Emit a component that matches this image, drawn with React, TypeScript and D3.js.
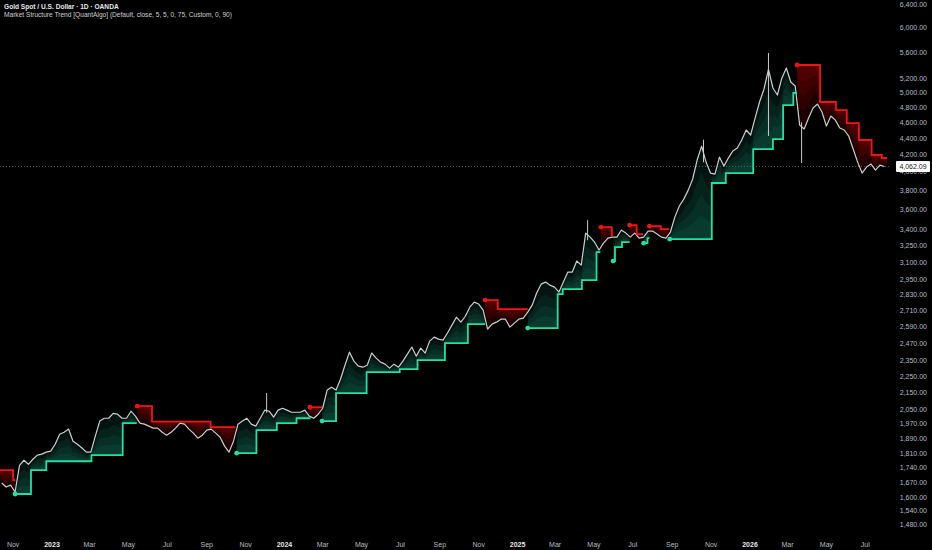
import React from 'react';
import * as d3 from 'd3';

const WIDTH = 932;
const HEIGHT = 550;
const PLOT_RIGHT = 890;
const PLOT_BOTTOM = 537;

// weekly closes, first one is the week of 2022-10-14
const firstWeek = '2022-10-14';
const weeklyCloses = [
  1666, 1647, 1656, 1624, 1751, 1776, 1756, 1781, 1802, 1807,
  1817, 1822, 1858, 1911, 1922, 1939, 1874, 1858, 1838, 1817,
  1817, 1901, 1983, 1999, 1999, 2027, 2022, 1999, 1999, 2039,
  2011, 1972, 1966, 1955, 1944, 1944, 1922, 1906, 1922, 1944,
  1972, 1966, 1939, 1917, 1890, 1906, 1933, 1939, 1917, 1895,
  1848, 1817, 1874, 1966, 1983, 1999, 1966, 1955, 1999, 2045,
  2039, 2005, 2045, 2056, 2045, 2033, 2033, 2033, 2045, 2011,
  1999, 2022, 2056, 2164, 2182, 2164, 2231, 2321, 2408, 2348,
  2315, 2308, 2321, 2402, 2368, 2341, 2328, 2302, 2328, 2308,
  2348, 2395, 2443, 2381, 2436, 2402, 2484, 2512, 2498, 2491,
  2541, 2598, 2657, 2620, 2664, 2733, 2772, 2757, 2711, 2570,
  2606, 2620, 2642, 2642, 2584, 2613, 2642, 2650, 2695, 2749,
  2844, 2916, 2933, 2908, 2892, 2852, 2933, 3017, 3017, 3112,
  3077, 3367, 3329, 3282, 3210, 3273, 3320, 3329, 3329, 3396,
  3367, 3329, 3367, 3320, 3329, 3386, 3386, 3358, 3329, 3320,
  3377, 3522, 3634, 3705, 3800, 3921, 4136, 4302, 4112, 3987,
  3976, 4171, 4066, 4159, 4242, 4278, 4376, 4501, 4438, 4655,
  4870, 5052, 5340, 5066, 4967, 5208, 5360, 5152, 5094, 4563,
  4514, 4655, 4788, 4842, 4735, 4551, 4682, 4628, 4526, 4501,
  4425, 4266, 4112, 3987, 4055, 4089, 4021, 4078, 4062,
];

// long wicks that stick out of the weekly line: [date, low, high]
const wicks: [string, number, number][] = [
  ['2023-12-04', 2030, 2146],
  ['2025-04-21', 3300, 3492],
  ['2025-10-20', 4110, 4380],
  ['2026-01-30', 4426, 5590],
  ['2026-03-23', 4101, 4600],
];

type Step = [string, number];
interface Trend {
  steps: Step[];
  end: string;
  dot: boolean;
}

// green trailing support, one entry per bullish structure
const supportTrends: Trend[] = [
  { steps: [['2022-11-04', 1615], ['2022-11-29', 1727], ['2022-12-23', 1771], ['2023-03-04', 1802], ['2023-04-22', 1972]], end: '2023-05-14', dot: true },
  { steps: [['2023-10-18', 1812], ['2023-11-18', 1933], ['2023-12-20', 1972], ['2024-01-20', 1999]], end: '2024-02-11', dot: true },
  { steps: [['2024-02-29', 1983], ['2024-03-22', 2146], ['2024-05-09', 2276], ['2024-06-30', 2295], ['2024-07-28', 2354], ['2024-09-09', 2470], ['2024-10-15', 2606]], end: '2024-11-11', dot: true },
  { steps: [['2025-01-17', 2577], ['2025-03-05', 2836], ['2025-03-13', 2876], ['2025-04-12', 2950], ['2025-05-05', 3192]], end: '2025-05-11', dot: true },
  { steps: [['2025-05-31', 3112], ['2025-06-03', 3236], ['2025-06-14', 3283]], end: '2025-06-26', dot: true },
  { steps: [['2025-07-18', 3273], ['2025-07-24', 3320]], end: '2025-07-27', dot: true },
  { steps: [['2025-08-28', 3310], ['2025-11-02', 3877], ['2025-11-24', 3987], ['2026-01-06', 4266], ['2026-02-06', 4388], ['2026-02-22', 4829], ['2026-03-10', 4995]], end: '2026-03-16', dot: true },
];

// red trailing resistance, one entry per bearish structure
const resistanceTrends: Trend[] = [
  { steps: [['2022-09-30', 1727], ['2022-11-01', 1680]], end: '2022-11-04', dot: false },
  { steps: [['2023-05-15', 2068], ['2023-06-07', 1980], ['2023-09-07', 1950]], end: '2023-10-16', dot: true },
  { steps: [['2024-02-10', 2062]], end: '2024-02-29', dot: true },
  { steps: [['2024-11-11', 2788], ['2024-12-01', 2718]], end: '2025-01-17', dot: true },
  { steps: [['2025-05-12', 3424], ['2025-05-29', 3339]], end: '2025-05-31', dot: true },
  { steps: [['2025-06-26', 3444], ['2025-07-07', 3358]], end: '2025-07-17', dot: true },
  { steps: [['2025-07-27', 3434], ['2025-08-14', 3405]], end: '2025-08-27', dot: true },
  { steps: [['2026-03-16', 5405], ['2026-04-21', 4870], ['2026-05-16', 4761], ['2026-06-02', 4590], ['2026-06-21', 4376], ['2026-07-11', 4195], ['2026-07-27', 4160]], end: '2026-08-04', dot: true },
];

const priceTicks = [
  1480, 1540, 1600, 1670, 1740, 1810, 1890, 1970, 2050, 2150, 2250, 2350, 2470, 2590,
  2710, 2830, 2950, 3100, 3250, 3400, 3600, 3800, 4000, 4200, 4400, 4600, 4800, 5000,
  5200, 5600, 6000, 6400,
];
const lastPrice = 4062.09;

const title = 'Gold Spot / U.S. Dollar · 1D · OANDA';
const subtitle = 'Market Structure Trend [QuantAlgo] (Default, close, 5, 5, 0, 75, Custom, 0, 90)';

// how far each shading layer reaches from the level towards price
const bandShares = [1, 0.72, 0.48, 0.26];

const parse = d3.utcParse('%Y-%m-%d');
const FONT = '"Liberation Sans", Arial, sans-serif';

interface Pt { t: Date; c: number }

const App = () => {
  const x = d3
    .scaleUtc()
    .domain([parse('2023-01-01') as Date, parse('2026-01-01') as Date])
    .range([52, 750]);
  const y = d3.scaleLog().domain([6400, 1480]).range([5, 525]);

  const start = parse(firstWeek) as Date;
  const prices: Pt[] = weeklyCloses.map((c, i) => ({ t: d3.utcDay.offset(start, 7 * i), c }));

  const bis = d3.bisector((d: Pt) => d.t).left;
  const priceY = (t: Date) => {
    const i = bis(prices, t);
    if (i <= 0) return y(prices[0].c);
    if (i >= prices.length) return y(prices[prices.length - 1].c);
    const a = prices[i - 1];
    const b = prices[i];
    const f = (+t - +a.t) / (+b.t - +a.t);
    return y(a.c) + f * (y(b.c) - y(a.c));
  };

  // points along a trend: each step segment at its ends and the weekly dates in between
  const trendSamples = (tr: Trend) => {
    const out: { t: Date; level: number }[] = [];
    tr.steps.forEach(([d, level], k) => {
      const t0 = parse(d) as Date;
      const t1 = parse(k + 1 < tr.steps.length ? tr.steps[k + 1][0] : tr.end) as Date;
      out.push({ t: t0, level });
      prices.forEach((p) => {
        if (p.t > t0 && p.t < t1) out.push({ t: p.t, level });
      });
      out.push({ t: t1, level });
    });
    return out;
  };

  const bands = (tr: Trend, up: boolean) => {
    const pts = trendSamples(tr);
    return bandShares.map((share) =>
      d3
        .area<{ t: Date; level: number }>()
        .x((d) => x(d.t))
        .y0((d) => y(d.level))
        .y1((d) => {
          const yl = y(d.level);
          const dy = priceY(d.t) - yl;
          const cl = up ? Math.min(dy, 0) : Math.max(dy, 0);
          return yl + share * cl;
        })(pts) || ''
    );
  };

  const levelLine = (tr: Trend) => {
    const last = tr.steps[tr.steps.length - 1];
    const pts: [number, number][] = tr.steps.map(([d, v]) => [x(parse(d) as Date), y(v)]);
    pts.push([x(parse(tr.end) as Date), y(last[1])]);
    return d3.line().curve(d3.curveStepAfter)(pts) || '';
  };

  const pricePath =
    d3
      .line<Pt>()
      .x((d) => x(d.t))
      .y((d) => y(d.c))(prices) || '';

  const monthTicks = d3.utcMonth
    .every(2)!
    .range(parse('2022-11-01') as Date, parse('2026-08-01') as Date);
  const monthFmt = d3.utcFormat('%b');

  const GREEN = '#22dfa4';
  const RED = '#f21414';

  return (
    <svg
      width={WIDTH}
      height={HEIGHT}
      style={{ position: 'absolute', left: 0, top: 0, display: 'block' }}
      fontFamily={FONT}
    >
      <rect x={0} y={0} width={WIDTH} height={HEIGHT} fill="#000" />
      <defs>
        <clipPath id="plot">
          <rect x={0} y={0} width={PLOT_RIGHT} height={PLOT_BOTTOM} />
        </clipPath>
      </defs>

      <g clipPath="url(#plot)">
        {/* shaded distance between the level and price */}
        {supportTrends.map((tr, i) =>
          bands(tr, true).map((d, k) => (
            <path key={`gb${i}-${k}`} d={d} fill="#0f7356" fillOpacity={0.17} />
          ))
        )}
        {resistanceTrends.map((tr, i) =>
          bands(tr, false).map((d, k) => (
            <path key={`rb${i}-${k}`} d={d} fill="#9a0000" fillOpacity={0.17} />
          ))
        )}

        <line
          x1={0}
          x2={PLOT_RIGHT}
          y1={y(lastPrice)}
          y2={y(lastPrice)}
          stroke="#6a6a6a"
          strokeWidth={0.8}
          strokeDasharray="1 2"
        />

        {/* price */}
        {wicks.map(([d, lo, hi], i) => (
          <line
            key={`w${i}`}
            x1={x(parse(d) as Date)}
            x2={x(parse(d) as Date)}
            y1={y(lo)}
            y2={y(hi)}
            stroke="#c8c8c8"
            strokeWidth={1}
          />
        ))}
        <path d={pricePath} fill="none" stroke="#cdcdcd" strokeWidth={1.2} strokeLinejoin="round" />

        {/* trailing levels */}
        {supportTrends.map((tr, i) => (
          <path key={`gl${i}`} d={levelLine(tr)} fill="none" stroke={GREEN} strokeWidth={1.8} />
        ))}
        {resistanceTrends.map((tr, i) => (
          <path key={`rl${i}`} d={levelLine(tr)} fill="none" stroke={RED} strokeWidth={1.8} />
        ))}
        {supportTrends
          .filter((tr) => tr.dot)
          .map((tr, i) => (
            <circle
              key={`gd${i}`}
              cx={x(parse(tr.steps[0][0]) as Date)}
              cy={y(tr.steps[0][1])}
              r={2.4}
              fill={GREEN}
            />
          ))}
        {resistanceTrends
          .filter((tr) => tr.dot)
          .map((tr, i) => (
            <circle
              key={`rd${i}`}
              cx={x(parse(tr.steps[0][0]) as Date)}
              cy={y(tr.steps[0][1])}
              r={2.4}
              fill={RED}
            />
          ))}
      </g>

      {/* price axis */}
      {priceTicks.map((v) => (
        <text key={v} x={927} y={y(v)} dy="0.35em" textAnchor="end" fontSize={7} fill="#b8bbc2">
          {d3.format(',.2f')(v)}
        </text>
      ))}
      <rect x={896} y={y(lastPrice) - 5.5} width={34} height={11} fill="#fff" rx={1} />
      <text
        x={913}
        y={y(lastPrice)}
        dy="0.35em"
        textAnchor="middle"
        fontSize={7}
        fill="#131722"
      >
        {d3.format(',.2f')(lastPrice)}
      </text>

      {/* time axis */}
      {monthTicks.map((t) => {
        const isYear = t.getUTCMonth() === 0;
        return (
          <text
            key={+t}
            x={x(t)}
            y={547}
            textAnchor="middle"
            fontSize={7}
            fontWeight={isYear ? 'bold' : 'normal'}
            fill={isYear ? '#e6e6e6' : '#b8bbc2'}
          >
            {isYear ? t.getUTCFullYear() : monthFmt(t)}
          </text>
        );
      })}

      {/* legend */}
      <text x={4} y={9} fontSize={6.6} fontWeight="bold" fill="#e8e8e8">
        {title}
      </text>
      <text x={4} y={17} fontSize={6.6} fill="#d0d0d0">
        {subtitle}
      </text>
    </svg>
  );
};

export default App;
